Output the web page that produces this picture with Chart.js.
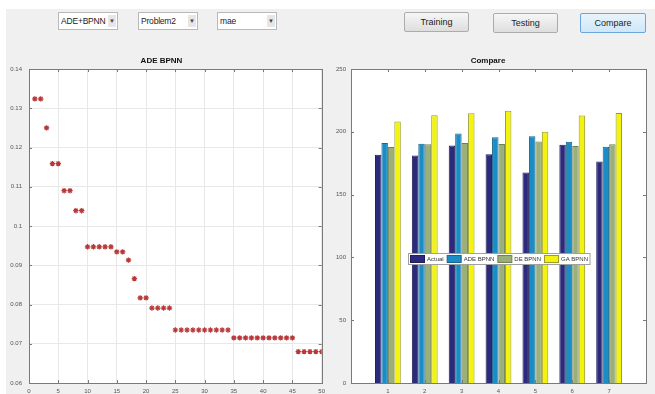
<!DOCTYPE html>
<html>
<head>
<meta charset="utf-8">
<script src="https://cdn.jsdelivr.net/npm/chart.js"></script>
<style>
html,body{margin:0;padding:0;width:655px;height:394px;overflow:hidden;background:#fff;font-family:"Liberation Sans",Arial,sans-serif;}
#fig{position:absolute;left:6px;top:9px;width:649px;height:385px;background:#f0f0f0;}
.pop{position:absolute;top:12px;height:18px;width:60px;box-sizing:border-box;background:#fff;border:1px solid #b9b9b9;font-size:8.5px;letter-spacing:-0.2px;line-height:16px;color:#222;padding-left:2px;}
.pop .arr{position:absolute;right:1px;top:2px;width:8px;height:12px;background:#e6e6e6;font-size:6px;line-height:12px;text-align:center;color:#444;letter-spacing:0;}
.btn{position:absolute;height:20px;box-sizing:border-box;border:1px solid #acacac;border-radius:2px;background:linear-gradient(#f6f6f6,#dedede);font-size:9px;line-height:18px;text-align:center;color:#222;}
.btn.sel{background:linear-gradient(#e8f4fc,#cfe7f8);border-color:#6aa6dc;}
canvas{position:absolute;}
</style>
</head>
<body>
<div id="fig"></div>
<div class="pop" style="left:58px">ADE+BPNN<span class="arr">&#9660;</span></div>
<div class="pop" style="left:138px">Problem2<span class="arr">&#9660;</span></div>
<div class="pop" style="left:217px">mae<span class="arr">&#9660;</span></div>
<div class="btn" style="left:404px;top:12px;width:65px">Training</div>
<div class="btn" style="left:493px;top:13px;width:65px">Testing</div>
<div class="btn sel" style="left:580px;top:13px;width:66px">Compare</div>
<canvas id="left" width="330" height="350" style="left:0;top:50px"></canvas>
<canvas id="right" width="325" height="350" style="left:330px;top:50px"></canvas>
<script>
// ADE BPNN error per iteration
const iterations = Array.from({length: 50}, (_, i) => i + 1);
const maeValues = [
  0.1324, 0.1324, 0.1250, 0.1159, 0.1159, 0.1090, 0.1090, 0.1039, 0.1039, 0.0947,
  0.0947, 0.0947, 0.0947, 0.0947, 0.0934, 0.0934, 0.0913, 0.0866, 0.0817, 0.0817,
  0.0791, 0.0791, 0.0791, 0.0791, 0.0735, 0.0735, 0.0735, 0.0735, 0.0735, 0.0735,
  0.0735, 0.0735, 0.0735, 0.0735, 0.0715, 0.0715, 0.0715, 0.0715, 0.0715, 0.0715,
  0.0715, 0.0715, 0.0715, 0.0715, 0.0715, 0.0680, 0.0680, 0.0680, 0.0680, 0.0680
];

// Compare chart
const samples = [1, 2, 3, 4, 5, 6, 7];
const seriesNames = ['Actual', 'ADE BPNN', 'DE BPNN', 'GA BPNN'];
const actual = [181.7, 181.2, 189.1, 182.2, 167.5, 189.7, 176.4];
const adeBpnn = [191.0, 190.5, 198.7, 195.7, 196.5, 192.0, 188.0];
const deBpnn = [187.8, 190.0, 191.0, 190.2, 192.3, 188.6, 190.0];
const gaBpnn = [208.2, 213.2, 214.8, 216.7, 200.0, 212.9, 215.0];

const fill = ['#2c2a7c', '#1b8dc6', '#9bb079', '#f3f312'];
const edge = ['#1e1c55', '#15648c', '#6f7f52', '#9a9a28'];
const FONT = '"Liberation Sans", Arial, sans-serif';

// white plot area, box and inner tick marks like the original figure
const frame = {
  id: 'frame',
  beforeDraw(c) {
    const a = c.chartArea, ctx = c.ctx;
    ctx.save();
    ctx.fillStyle = '#fff';
    ctx.fillRect(a.left, a.top, a.width, a.height);
    ctx.restore();
  },
  afterDraw(c) {
    const a = c.chartArea, ctx = c.ctx, L = 3;
    ctx.save();
    ctx.strokeStyle = '#7a7a7a';
    ctx.lineWidth = 1;
    ctx.strokeRect(Math.round(a.left) + 0.5, Math.round(a.top) + 0.5, Math.round(a.width), Math.round(a.height));
    ctx.beginPath();
    c.scales.x.ticks.forEach((t, i) => {
      if (c.options.scales.x.ticks.callback(t.value) === '') return;
      const px = Math.round(c.scales.x.getPixelForTick(i)) + 0.5;
      ctx.moveTo(px, a.top); ctx.lineTo(px, a.top + L);
      ctx.moveTo(px, a.bottom); ctx.lineTo(px, a.bottom - L);
    });
    c.scales.y.ticks.forEach((t, i) => {
      const py = Math.round(c.scales.y.getPixelForTick(i)) + 0.5;
      ctx.moveTo(a.left, py); ctx.lineTo(a.left + L, py);
      ctx.moveTo(a.right, py); ctx.lineTo(a.right - L, py);
    });
    ctx.stroke();
    ctx.restore();
  }
};

// legend boxed inside the plot area
const boxLegend = {
  id: 'boxLegend',
  afterDraw(c) {
    const ctx = c.ctx, a = c.chartArea;
    ctx.save();
    ctx.font = '6px ' + FONT;
    const sw = 14, sh = 7, gap = 2.5, sep = 3.5, pad = 2, H = 11;
    const items = c.data.datasets.map(d => ({t: d.label, f: d.backgroundColor, b: d.borderColor, w: ctx.measureText(d.label).width}));
    let W = pad * 2;
    items.forEach((it, i) => { W += sw + gap + it.w + (i < items.length - 1 ? sep : 0); });
    const cx = (a.left + a.right) / 2, cy = a.top + a.height * 0.605;
    let x = Math.round(cx - W / 2) + 0.5;
    const top = Math.round(cy - H / 2) + 0.5;
    ctx.fillStyle = '#fff';
    ctx.fillRect(x, top, W, H);
    ctx.strokeStyle = '#a0a0a0';
    ctx.lineWidth = 1;
    ctx.strokeRect(x, top, W, H);
    x += pad;
    ctx.textBaseline = 'middle';
    items.forEach(it => {
      ctx.fillStyle = it.f;
      ctx.fillRect(x, cy - sh / 2, sw, sh);
      ctx.strokeStyle = it.b;
      ctx.strokeRect(x, cy - sh / 2, sw, sh);
      x += sw + gap;
      ctx.fillStyle = '#333';
      ctx.fillText(it.t, x, cy + 0.5);
      x += it.w + sep;
    });
    ctx.restore();
  }
};

const tickFont = {family: FONT, size: 6};
const titleOpts = text => ({
  display: true, text: text, color: '#111',
  font: {family: FONT, size: 8, weight: 'bold'},
  padding: {top: 6, bottom: 3.4}
});

new Chart(document.getElementById('left'), {
  type: 'scatter',
  data: {
    datasets: [{
      label: 'ADE BPNN',
      data: iterations.map((it, i) => ({x: it, y: maeValues[i]})),
      pointStyle: 'star',
      pointRadius: 2.7,
      pointBorderWidth: 1.2,
      borderColor: '#b83838',
      backgroundColor: '#b83838'
    }]
  },
  options: {
    responsive: false,
    animation: false,
    layout: {padding: {left: 0, right: 7, top: 0, bottom: 0}},
    plugins: {legend: {display: false}, tooltip: {enabled: false}, title: titleOpts('ADE BPNN')},
    scales: {
      x: {
        type: 'linear', min: 0, max: 50,
        afterFit: s => { s.height = 17; },
        grid: {color: '#e8e8e8', drawTicks: false},
        border: {display: false},
        ticks: {stepSize: 5, font: tickFont, color: '#555', padding: 5, maxRotation: 0, callback: v => String(v)}
      },
      y: {
        min: 0.06, max: 0.14,
        afterFit: s => { s.width = 29; },
        grid: {color: '#e8e8e8', drawTicks: false},
        border: {display: false},
        ticks: {stepSize: 0.01, font: tickFont, color: '#555', padding: 7, callback: v => String(+v.toFixed(2))}
      }
    }
  },
  plugins: [frame]
});

const series = [actual, adeBpnn, deBpnn, gaBpnn];
new Chart(document.getElementById('right'), {
  type: 'bar',
  data: {
    datasets: series.map((vals, k) => ({
      label: seriesNames[k],
      data: samples.map((s, i) => ({x: s, y: vals[i]})),
      backgroundColor: fill[k],
      borderColor: edge[k],
      borderWidth: 1,
      categoryPercentage: 0.7,
      barPercentage: 1
    }))
  },
  options: {
    responsive: false,
    animation: false,
    layout: {padding: {left: 0, right: 9, top: 0, bottom: 0}},
    plugins: {legend: {display: false}, tooltip: {enabled: false}, title: titleOpts('Compare')},
    scales: {
      x: {
        type: 'linear', min: 0, max: 8, offset: false,
        afterFit: s => { s.height = 17; },
        grid: {display: false, offset: false, drawTicks: false},
        border: {display: false},
        ticks: {stepSize: 1, font: tickFont, color: '#555', padding: 5, maxRotation: 0,
          callback: v => (v >= 1 && v <= 7 ? String(v) : '')}
      },
      y: {
        min: 0, max: 250,
        afterFit: s => { s.width = 21; },
        grid: {display: false, drawTicks: false},
        border: {display: false},
        ticks: {stepSize: 50, font: tickFont, color: '#555', padding: 5}
      }
    }
  },
  plugins: [frame, boxLegend]
});
</script>
</body>
</html>
